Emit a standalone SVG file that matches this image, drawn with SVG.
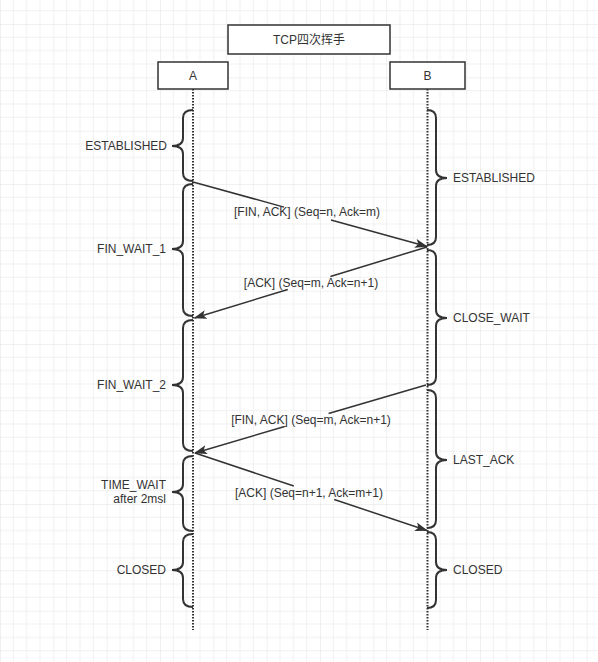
<svg xmlns="http://www.w3.org/2000/svg" width="598" height="662" viewBox="0 0 598 662">
<style>
.box{fill:#ffffff;stroke:#333333;stroke-width:1.5}
.t{font-family:"Liberation Sans","Noto Sans CJK SC",sans-serif;font-size:12px;fill:#333333}
.life{stroke:#333333;stroke-width:2;stroke-dasharray:1.5 1.5;fill:none}
.brace{fill:none;stroke:#333333;stroke-width:2}
.conn{fill:none;stroke:#333333;stroke-width:1.5}
</style>
<defs>
<pattern id="grid" width="53.333" height="53.333" patternUnits="userSpaceOnUse" patternTransform="translate(0,24)">
<path d="M13.333,0V53.333M26.667,0V53.333M40,0V53.333M0,13.333H53.333M0,26.667H53.333M0,40H53.333" stroke="#f0f0f0" stroke-width="1" fill="none"/>
<path d="M0,0V53.333M0,0H53.333" stroke="#e2e2e2" stroke-width="1" fill="none"/>
</pattern>
<marker id="arr" markerUnits="userSpaceOnUse" viewBox="0 0 13 10" markerWidth="13" markerHeight="10" refX="12" refY="5" orient="auto">
<path d="M0,0.5 L13,5 L0,9.5 L3,5 Z" fill="#333333"/>
</marker>
</defs>
<rect width="598" height="662" fill="#ffffff"/>
<rect width="598" height="662" fill="url(#grid)"/>

<g id="title">
<rect class="box" x="228" y="25" width="162" height="29"/>
<text class="t" x="309" y="43.5" text-anchor="middle">TCP四次挥手</text>
</g>

<g id="nodeA">
<line class="life" x1="193" y1="89" x2="193" y2="630"/>
<rect class="box" x="158" y="62" width="70" height="27"/>
<text class="t" x="193" y="80" text-anchor="middle">A</text>
</g>

<g id="nodeB">
<line class="life" x1="427.5" y1="89" x2="427.5" y2="630"/>
<rect class="box" x="390" y="62" width="75" height="27"/>
<text class="t" x="427.5" y="80" text-anchor="middle">B</text>
</g>

<g id="statesA">
<path class="brace" d="M193,110 Q183,110 183,118 L183,138 Q183,146 172,146 Q183,146 183,154 L183,173 Q183,181 193,181"/>
<text class="t" x="167" y="150" text-anchor="end">ESTABLISHED</text>
<path class="brace" d="M193,184 Q183,184 183,192 L183,241 Q183,249 172,249 Q183,249 183,257 L183,308 Q183,316 193,316"/>
<text class="t" x="166" y="253" text-anchor="end">FIN_WAIT_1</text>
<path class="brace" d="M193,320 Q183,320 183,328 L183,377 Q183,385 172,385 Q183,385 183,393 L183,443 Q183,451 193,451"/>
<text class="t" x="166" y="389" text-anchor="end">FIN_WAIT_2</text>
<path class="brace" d="M193,456 Q183,456 183,464 L183,484 Q183,492 172,492 Q183,492 183,500 L183,523 Q183,531 193,531"/>
<text class="t" x="166" y="489" text-anchor="end">TIME_WAIT</text>
<text class="t" x="166" y="502.5" text-anchor="end">after 2msl</text>
<path class="brace" d="M193,534 Q183,534 183,542 L183,562 Q183,570 172,570 Q183,570 183,578 L183,599 Q183,607 193,607"/>
<text class="t" x="166" y="573.5" text-anchor="end">CLOSED</text>
</g>

<g id="statesB">
<path class="brace" d="M427,110 Q436,110 436,118 L436,170 Q436,178 447,178 Q436,178 436,186 L436,237 Q436,245 427,245"/>
<text class="t" x="453" y="182" text-anchor="start">ESTABLISHED</text>
<path class="brace" d="M427,250 Q436,250 436,258 L436,310 Q436,318 447,318 Q436,318 436,326 L436,377 Q436,385 427,385"/>
<text class="t" x="453" y="322" text-anchor="start">CLOSE_WAIT</text>
<path class="brace" d="M427,390 Q436,390 436,398 L436,452 Q436,460 447,460 Q436,460 436,468 L436,520 Q436,528 427,528"/>
<text class="t" x="453" y="464" text-anchor="start">LAST_ACK</text>
<path class="brace" d="M427,532 Q436,532 436,540 L436,562 Q436,570 447,570 Q436,570 436,578 L436,600 Q436,608 427,608"/>
<text class="t" x="453" y="573.5" text-anchor="start">CLOSED</text>
</g>

<g id="connectors">
<path class="conn" marker-end="url(#arr)" d="M193,182 L284,207.1 M331,220 L427,246.5"/>
<path class="conn" marker-end="url(#arr)" d="M427,247 L330.4,276.5 M287.8,289.5 L194.5,318"/>
<path class="conn" marker-end="url(#arr)" d="M426,385 L328.6,413.5 M284.7,426.5 L195,453"/>
<path class="conn" marker-end="url(#arr)" d="M195,453 L293.8,486 M334.2,499.5 L427,530.5"/>
<text class="t" x="307" y="216" text-anchor="middle">[FIN, ACK] (Seq=n, Ack=m)</text>
<text class="t" x="311" y="287" text-anchor="middle">[ACK] (Seq=m, Ack=n+1)</text>
<text class="t" x="311" y="424" text-anchor="middle">[FIN, ACK] (Seq=m, Ack=n+1)</text>
<text class="t" x="309" y="497" text-anchor="middle">[ACK] (Seq=n+1, Ack=m+1)</text>
</g>
</svg>
